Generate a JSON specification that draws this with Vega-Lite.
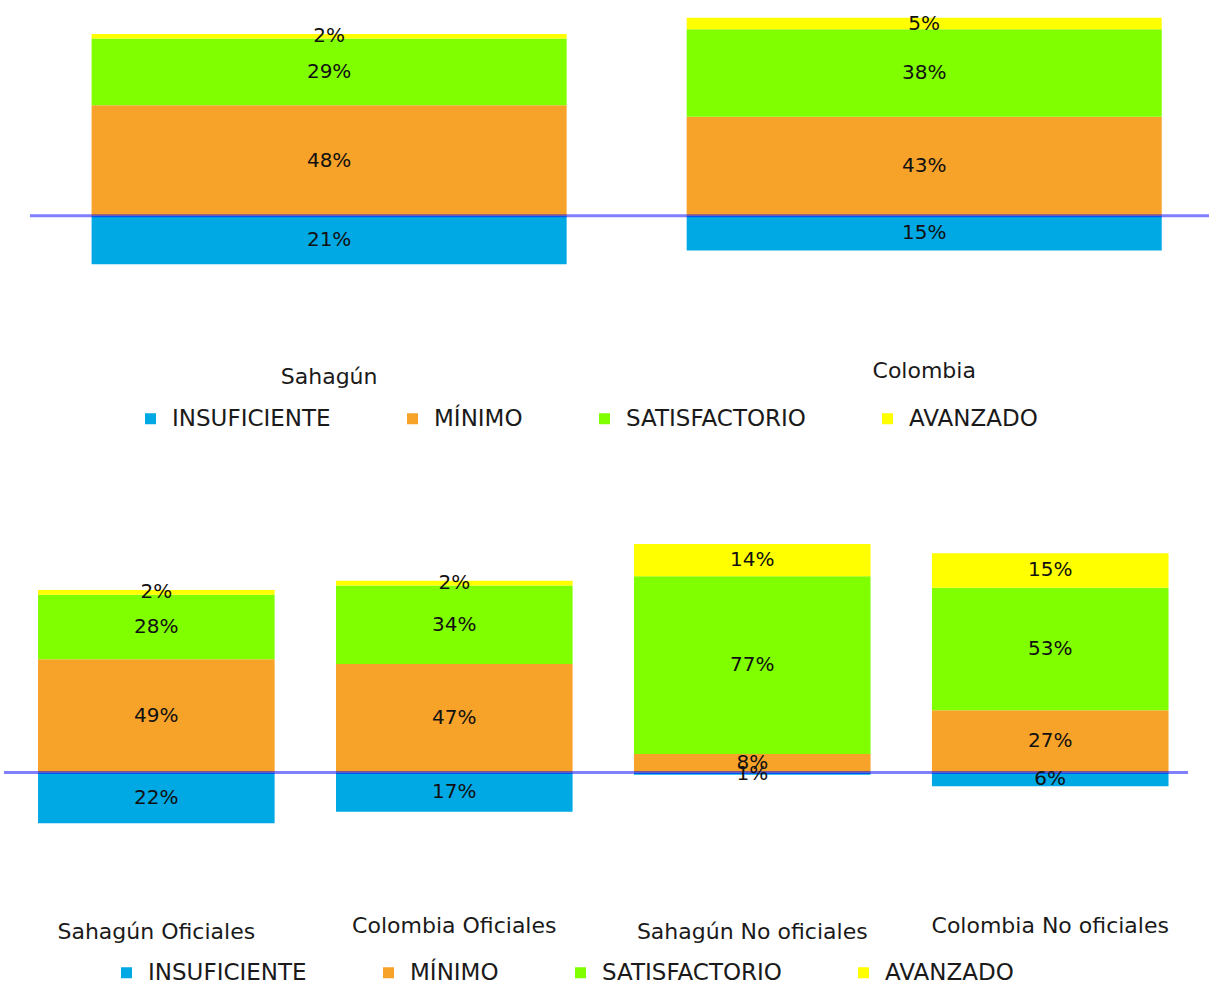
{
  "$schema": "https://vega.github.io/schema/vega-lite/v6.json",
  "padding": {"left": 2, "top": 4, "right": 0, "bottom": 0},
  "background": "white",
  "config": {"view": {"stroke": null}, "font": "DejaVu Sans"},
  "datasets": {
    "arriba": [
      {"grupo": "Sahagún", "nivel": "INSUFICIENTE", "pct": 21},
      {"grupo": "Sahagún", "nivel": "MÍNIMO", "pct": 48},
      {"grupo": "Sahagún", "nivel": "SATISFACTORIO", "pct": 29},
      {"grupo": "Sahagún", "nivel": "AVANZADO", "pct": 2},
      {"grupo": "Colombia", "nivel": "INSUFICIENTE", "pct": 15},
      {"grupo": "Colombia", "nivel": "MÍNIMO", "pct": 43},
      {"grupo": "Colombia", "nivel": "SATISFACTORIO", "pct": 38},
      {"grupo": "Colombia", "nivel": "AVANZADO", "pct": 5}
    ],
    "abajo": [
      {"grupo": "Sahagún Oficiales", "nivel": "INSUFICIENTE", "pct": 22},
      {"grupo": "Sahagún Oficiales", "nivel": "MÍNIMO", "pct": 49},
      {"grupo": "Sahagún Oficiales", "nivel": "SATISFACTORIO", "pct": 28},
      {"grupo": "Sahagún Oficiales", "nivel": "AVANZADO", "pct": 2},
      {"grupo": "Colombia Oficiales", "nivel": "INSUFICIENTE", "pct": 17},
      {"grupo": "Colombia Oficiales", "nivel": "MÍNIMO", "pct": 47},
      {"grupo": "Colombia Oficiales", "nivel": "SATISFACTORIO", "pct": 34},
      {"grupo": "Colombia Oficiales", "nivel": "AVANZADO", "pct": 2},
      {"grupo": "Sahagún No oficiales", "nivel": "INSUFICIENTE", "pct": 1},
      {"grupo": "Sahagún No oficiales", "nivel": "MÍNIMO", "pct": 8},
      {"grupo": "Sahagún No oficiales", "nivel": "SATISFACTORIO", "pct": 77},
      {"grupo": "Sahagún No oficiales", "nivel": "AVANZADO", "pct": 14},
      {"grupo": "Colombia No oficiales", "nivel": "INSUFICIENTE", "pct": 6},
      {"grupo": "Colombia No oficiales", "nivel": "MÍNIMO", "pct": 27},
      {"grupo": "Colombia No oficiales", "nivel": "SATISFACTORIO", "pct": 53},
      {"grupo": "Colombia No oficiales", "nivel": "AVANZADO", "pct": 15}
    ]
  },
  "spacing": 106,
  "resolve": {
    "scale": {"x": "independent", "y": "independent", "color": "independent"},
    "legend": {"color": "independent"}
  },
  "vconcat": [
    {
      "width": 1207,
      "height": 350,
      "resolve": {"scale": {"x": "independent"}},
      "layer": [
        {
          "data": {"name": "arriba"},
          "transform": [
            {"calculate": "indexof(['INSUFICIENTE','MÍNIMO','SATISFACTORIO','AVANZADO'], datum.nivel)", "as": "ord"},
            {"calculate": "datum.nivel == 'INSUFICIENTE' ? -datum.pct : datum.pct", "as": "v"},
            {"stack": "v", "groupby": ["grupo"], "offset": "zero", "sort": [{"field": "ord", "order": "ascending"}], "as": ["v0", "v1"]},
            {"calculate": "(datum.v0 + datum.v1) / 2", "as": "mid"},
            {"calculate": "datum.pct + '%'", "as": "etiqueta"}
          ],
          "encoding": {
            "x": {"field": "grupo", "type": "nominal",
              "scale": {"type": "band", "domain": ["Sahagún", "Colombia"], "paddingInner": 0.2017, "paddingOuter": 0.115, "align": 0.64},
              "axis": null}
          },
          "layer": [
            {
              "mark": {"type": "bar"},
              "encoding": {
                "y": {"field": "v0", "type": "quantitative", "stack": null,
                  "scale": {"domain": [-60, 92], "nice": false, "zero": false},
                  "axis": null},
                "y2": {"field": "v1"},
                "color": {"field": "nivel", "type": "nominal",
                  "scale": {"domain": ["INSUFICIENTE", "MÍNIMO", "SATISFACTORIO", "AVANZADO"], "range": ["#00A8E4", "#F7A229", "#80FF00", "#FFFF00"]},
                  "legend": {"title": null, "orient": "none", "legendX": 135, "legendY": 403, "direction": "horizontal", "columns": 4, "columnPadding": 70, "padding": 0,
                    "symbolType": "square", "symbolSize": 121, "symbolStrokeWidth": 0, "labelOffset": 10, "labelFont": "DejaVu Sans", "labelFontSize": 23, "labelColor": "#1a1a1a", "labelLimit": 0}}
              }
            },
            {
              "mark": {"type": "text", "font": "DejaVu Sans", "fontSize": 20, "color": "#111111", "baseline": "middle", "align": "center"},
              "encoding": {
                "y": {"field": "mid", "type": "quantitative", "stack": null},
                "text": {"field": "etiqueta"}
              }
            },
            {
              "transform": [
                {"aggregate": [{"op": "count", "as": "n"}], "groupby": ["grupo"]},
                {"filter": "indexof(datum.grupo, 'Sahag') >= 0"}
              ],
              "mark": {"type": "text", "font": "DejaVu Sans", "fontSize": 22, "color": "#1a1a1a", "baseline": "middle", "align": "center", "dy": 6},
              "encoding": {
                "y": {"datum": -67.4, "type": "quantitative"},
                "text": {"field": "grupo"}
              }
            },
            {
              "transform": [
                {"aggregate": [{"op": "count", "as": "n"}], "groupby": ["grupo"]},
                {"filter": "indexof(datum.grupo, 'Sahag') < 0"}
              ],
              "mark": {"type": "text", "font": "DejaVu Sans", "fontSize": 22, "color": "#1a1a1a", "baseline": "middle", "align": "center"},
              "encoding": {
                "y": {"datum": -67.4, "type": "quantitative"},
                "text": {"field": "grupo"}
              }
            }
          ]
        },
        {
          "data": {"values": [{}]},
          "mark": {"type": "rule", "color": "#0000ff", "opacity": 0.5, "strokeWidth": 3},
          "encoding": {
            "x": {"datum": 0.0215, "type": "quantitative", "scale": {"domain": [0, 1], "nice": false, "zero": false}, "axis": null},
            "x2": {"datum": 1},
            "y": {"datum": 0, "type": "quantitative"}
          }
        }
      ]
    },
    {
      "width": 1184,
      "height": 374,
      "data": {"name": "abajo"},
      "transform": [
        {"calculate": "indexof(['INSUFICIENTE','MÍNIMO','SATISFACTORIO','AVANZADO'], datum.nivel)", "as": "ord"},
        {"calculate": "datum.nivel == 'INSUFICIENTE' ? -datum.pct : datum.pct", "as": "v"},
        {"stack": "v", "groupby": ["grupo"], "offset": "zero", "sort": [{"field": "ord", "order": "ascending"}], "as": ["v0", "v1"]},
        {"calculate": "(datum.v0 + datum.v1) / 2", "as": "mid"},
        {"calculate": "datum.pct + '%'", "as": "etiqueta"}
      ],
      "layer": [
        {
          "mark": {"type": "bar"},
          "encoding": {
            "x": {"field": "grupo", "type": "nominal",
              "scale": {"type": "band", "domain": ["Sahagún Oficiales", "Colombia Oficiales", "Sahagún No oficiales", "Colombia No oficiales"], "paddingInner": 0.206, "paddingOuter": 0.0898, "align": 0.636},
              "axis": null},
            "y": {"field": "v0", "type": "quantitative", "stack": null,
              "scale": {"domain": [-60, 102], "nice": false, "zero": false},
              "axis": null},
            "y2": {"field": "v1"},
            "color": {"field": "nivel", "type": "nominal",
              "scale": {"domain": ["INSUFICIENTE", "MÍNIMO", "SATISFACTORIO", "AVANZADO"], "range": ["#00A8E4", "#F7A229", "#80FF00", "#FFFF00"]},
              "legend": {"title": null, "orient": "none", "legendX": 111, "legendY": 424, "direction": "horizontal", "columns": 4, "columnPadding": 70, "padding": 0,
                "symbolType": "square", "symbolSize": 121, "symbolStrokeWidth": 0, "labelOffset": 10, "labelFont": "DejaVu Sans", "labelFontSize": 23, "labelColor": "#1a1a1a", "labelLimit": 0}}
          }
        },
        {
          "data": {"values": [{}]},
          "mark": {"type": "rule", "color": "#0000ff", "opacity": 0.5, "strokeWidth": 3},
          "encoding": {"y": {"datum": 0, "type": "quantitative"}}
        },
        {
          "mark": {"type": "text", "font": "DejaVu Sans", "fontSize": 20, "color": "#111111", "baseline": "middle", "align": "center"},
          "encoding": {
            "x": {"field": "grupo", "type": "nominal"},
            "y": {"field": "mid", "type": "quantitative", "stack": null},
            "text": {"field": "etiqueta"}
          }
        },
        {
          "transform": [
            {"aggregate": [{"op": "count", "as": "n"}], "groupby": ["grupo"]},
            {"filter": "indexof(datum.grupo, 'Sahag') >= 0"}
          ],
          "mark": {"type": "text", "font": "DejaVu Sans", "fontSize": 22, "color": "#1a1a1a", "baseline": "middle", "align": "center", "dy": 6},
          "encoding": {
            "x": {"field": "grupo", "type": "nominal"},
            "y": {"datum": -66.3, "type": "quantitative"},
            "text": {"field": "grupo"}
          }
        },
        {
          "transform": [
            {"aggregate": [{"op": "count", "as": "n"}], "groupby": ["grupo"]},
            {"filter": "indexof(datum.grupo, 'Sahag') < 0"}
          ],
          "mark": {"type": "text", "font": "DejaVu Sans", "fontSize": 22, "color": "#1a1a1a", "baseline": "middle", "align": "center"},
          "encoding": {
            "x": {"field": "grupo", "type": "nominal"},
            "y": {"datum": -66.3, "type": "quantitative"},
            "text": {"field": "grupo"}
          }
        }
      ]
    }
  ]
}
